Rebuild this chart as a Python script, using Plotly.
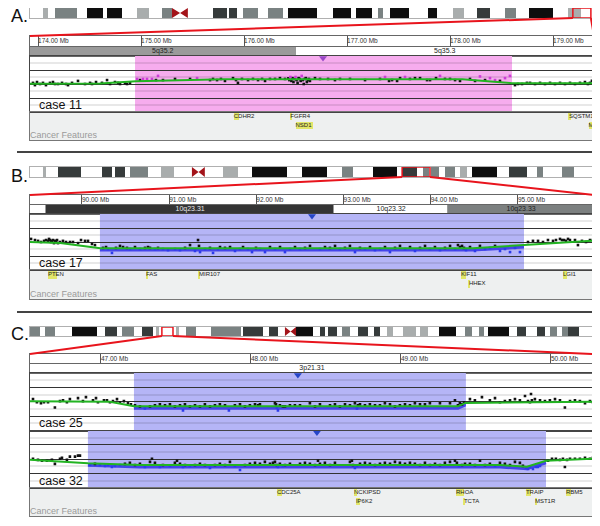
import plotly.graph_objects as go
import numpy as np

# page body has an 8px margin: the figure is drawn 8px right/down of the window origin
OFF = 8
W, H = 600 - OFF, 526 - OFF
FONT = "Liberation Sans"

# ---------------- ideogram bands: (start Mb, end Mb, stain) ----------------
CHR5_LEN = 181.5
CHR5_BANDS = [
    (0.0, 4.2, "gneg"), (4.2, 5.8, "gpos25"), (5.8, 8.0, "gneg"), (8.0, 15.1, "gpos50"),
    (15.1, 18.3, "gneg"), (18.3, 23.5, "gpos100"), (23.5, 24.8, "gneg"), (24.8, 29.6, "gpos100"),
    (29.6, 34.4, "gneg"), (34.4, 38.3, "gpos25"), (38.3, 42.5, "gneg"), (42.5, 45.7, "gpos50"),
    (45.7, 48.3, "acen"), (48.3, 50.8, "acen"), (50.8, 58.9, "gneg"), (58.9, 63.4, "gpos75"),
    (63.4, 64.0, "gneg"), (64.0, 66.6, "gpos75"), (66.6, 68.5, "gneg"), (68.5, 73.4, "gpos50"),
    (73.4, 76.6, "gneg"), (76.6, 81.4, "gpos50"), (81.4, 83.0, "gneg"), (83.0, 92.4, "gpos100"),
    (92.4, 97.5, "gneg"), (97.5, 103.3, "gpos100"), (103.3, 104.9, "gneg"), (104.9, 110.1, "gpos100"),
    (110.1, 112.0, "gneg"), (112.0, 113.6, "gpos50"), (113.6, 115.8, "gneg"), (115.8, 122.0, "gpos100"),
    (122.0, 128.1, "gneg"), (128.1, 131.0, "gpos100"), (131.0, 136.1, "gneg"), (136.1, 139.7, "gpos25"),
    (139.7, 143.8, "gneg"), (143.8, 148.0, "gpos75"), (148.0, 152.9, "gneg"), (152.9, 156.4, "gpos50"),
    (156.4, 160.6, "gneg"), (160.6, 168.3, "gpos100"), (168.3, 173.1, "gneg"), (173.1, 177.3, "gpos25"),
    (177.3, 181.5, "gneg"),
]
CHR5_WINDOW = (174.7, 180.5)

CHR10_LEN = 135.5
CHR10_BANDS = [
    (0.0, 3.1, "gneg"), (3.1, 3.8, "gpos25"), (3.8, 6.7, "gneg"), (6.7, 12.3, "gpos75"),
    (12.3, 17.3, "gneg"), (17.3, 19.7, "gpos75"), (19.7, 20.4, "gneg"), (20.4, 22.8, "gpos75"),
    (22.8, 24.0, "gneg"), (24.0, 28.3, "gpos50"), (28.3, 31.5, "gneg"), (31.5, 34.6, "gpos25"),
    (34.6, 38.9, "gneg"), (38.9, 40.5, "acen"), (40.5, 42.0, "acen"), (42.0, 46.4, "gneg"),
    (46.4, 50.0, "gpos25"), (50.0, 53.3, "gneg"), (53.3, 61.7, "gpos100"), (61.7, 65.3, "gneg"),
    (65.3, 71.3, "gpos100"), (71.3, 74.9, "gneg"), (74.9, 77.6, "gpos50"), (77.6, 82.4, "gneg"),
    (82.4, 88.2, "gpos100"), (88.2, 89.4, "gneg"), (89.4, 93.0, "gpos75"), (93.0, 94.4, "gneg"),
    (94.4, 95.8, "gpos50"), (95.8, 96.3, "gneg"), (96.3, 98.2, "gpos50"), (98.2, 99.7, "gneg"),
    (99.7, 102.1, "gpos50"), (102.1, 103.3, "gneg"), (103.3, 105.0, "gpos25"), (105.0, 106.2, "gneg"),
    (106.2, 112.2, "gpos100"), (112.2, 115.1, "gneg"), (115.1, 119.4, "gpos75"), (119.4, 121.8, "gneg"),
    (121.8, 123.2, "gpos50"), (123.2, 127.8, "gneg"), (127.8, 130.7, "gpos50"), (130.7, 135.5, "gneg"),
]
CHR10_WINDOW = (89.4, 96.1)

CHR3_LEN = 198.0
CHR3_BANDS = [
    (0.0, 3.5, "gpos50"), (3.5, 5.3, "gneg"), (5.3, 8.8, "gpos50"), (8.8, 14.7, "gneg"),
    (14.7, 23.5, "gpos100"), (23.5, 26.3, "gneg"), (26.3, 30.5, "gpos75"), (30.5, 32.3, "gneg"),
    (32.3, 36.5, "gpos50"), (36.5, 39.3, "gneg"), (39.3, 43.2, "gpos75"), (43.2, 44.2, "gneg"),
    (44.2, 45.3, "gpos25"), (45.3, 51.3, "gneg"), (51.3, 52.3, "gpos25"), (52.3, 54.8, "gneg"),
    (54.8, 58.3, "gpos50"), (58.3, 63.5, "gneg"), (63.5, 74.1, "gpos50"), (74.1, 74.8, "gneg"),
    (74.8, 81.8, "gpos75"), (81.8, 83.9, "gneg"), (83.9, 87.1, "gpos75"), (87.1, 89.5, "gneg"),
    (89.5, 91.5, "acen"), (91.5, 93.4, "acen"), (93.4, 99.4, "gpos100"), (99.4, 101.8, "gneg"),
    (101.8, 103.9, "gpos75"), (103.9, 104.6, "gneg"), (104.6, 107.8, "gpos75"), (107.8, 109.5, "gneg"),
    (109.5, 112.4, "gpos50"), (112.4, 115.2, "gneg"), (115.2, 118.7, "gpos75"), (118.7, 120.8, "gneg"),
    (120.8, 122.9, "gpos75"), (122.9, 125.3, "gneg"), (125.3, 127.4, "gpos25"), (127.4, 131.0, "gneg"),
    (131.0, 135.5, "gpos25"), (135.5, 136.9, "gneg"), (136.9, 139.7, "gpos25"), (139.7, 143.6, "gneg"),
    (143.6, 149.6, "gpos100"), (149.6, 152.7, "gneg"), (152.7, 155.2, "gpos50"), (155.2, 157.6, "gneg"),
    (157.6, 159.4, "gpos50"), (159.4, 160.8, "gneg"), (160.8, 168.2, "gpos100"), (168.2, 171.0, "gneg"),
    (171.0, 174.1, "gpos75"), (174.1, 178.0, "gneg"), (178.0, 180.8, "gpos75"), (180.8, 182.6, "gneg"),
    (182.6, 185.0, "gpos50"), (185.0, 186.8, "gneg"), (186.8, 188.9, "gpos50"), (188.9, 192.8, "gpos75"),
    (192.8, 198.0, "gneg"),
]
CHR3_WINDOW = (46.3, 50.2)

# ---------------- zoomed views (Mb) ----------------
A_VIEW = (173.922, 179.398)
B_VIEW = (89.404, 95.872)
C_VIEW = (46.527, 50.287)

# cytobands in view: (name, start, end, shade)
A_CYTO = [("5q35.2", 173.3, 176.5, "mid"), ("5q35.3", 176.5, 181.0, "white")]
B_CYTO = [("10q23.2", 87.9, 89.59, "white"), ("10q23.31", 89.59, 92.89, "dark"),
          ("10q23.32", 92.89, 94.2, "white"), ("10q23.33", 94.2, 97.0, "gray")]
C_CYTO = [("3p21.31", 46.0, 50.6, "white")]

# cancer features: (gene, start, end, row)
A_GENES = [("CDHR2", 175.90, 175.948, 1), ("FGFR4", 176.45, 176.461, 1), ("NSD1", 176.50, 176.667, 2),
           ("SQSTM1", 179.155, 179.171, 1), ("MAML1", 179.345, 179.378, 2)]
B_GENES = [("PTEN", 89.61, 89.714, 1), ("FAS", 90.734, 90.76, 1), ("MIR107", 91.342, 91.343, 1),
           ("KIF11", 94.346, 94.409, 1), ("HHEX", 94.438, 94.444, 2), ("LGI1", 95.516, 95.56, 1)]
C_GENES = [("CDC25A", 48.173, 48.204, 1), ("NCKIPSD", 48.687, 48.71, 1), ("IP6K2", 48.70, 48.73, 2),
           ("RHOA", 49.367, 49.42, 1), ("TCTA", 49.42, 49.43, 2), ("TRAIP", 49.833, 49.866, 1),
           ("MST1R", 49.893, 49.91, 2), ("RBM5", 50.10, 50.135, 1)]

# ---------------- probe data (Mb, log2 ratio) ----------------
A_X = [173.951, 173.97, 173.99, 174.019, 174.048, 174.077, 174.116, 174.145, 174.165, 174.194, 174.233, 174.272,
       174.291, 174.33, 174.388, 174.456, 174.505, 174.524, 174.563, 174.621, 174.67, 174.699, 174.747, 174.776,
       174.796, 174.844, 174.864, 174.893,
       174.961, 174.99, 175.019, 175.058, 175.106, 175.145, 175.165, 175.213, 175.33, 175.476, 175.544, 175.67,
       175.699, 175.738, 175.776, 175.815, 175.893, 175.922, 175.941, 175.98, 176.039, 176.087, 176.136, 176.175,
       176.204, 176.252, 176.301, 176.349, 176.398,
       176.43, 176.44, 176.45, 176.46, 176.47, 176.48, 176.49, 176.50, 176.51, 176.52, 176.53, 176.54, 176.55,
       176.56, 176.57, 176.58, 176.59, 176.60, 176.61, 176.62, 176.63, 176.64,
       176.689, 176.738, 176.816, 176.883, 176.932, 177.029, 177.175, 177.32, 177.369, 177.408, 177.437, 177.486,
       177.515, 177.563, 177.611, 177.66, 177.709, 177.777, 177.806, 177.864, 177.903, 177.951, 178.0, 178.049,
       178.097, 178.194, 178.243, 178.291, 178.34, 178.388, 178.437, 178.485, 178.534, 178.582,
       178.631, 178.66, 178.699, 178.747, 178.777, 178.825, 178.874, 178.922, 178.971, 179.019, 179.068, 179.116,
       179.165, 179.213, 179.262, 179.31, 179.339, 179.359, 179.378]
A_V = [0.04, -0.04, 0.07, 0.0, 0.04, -0.04, 0.04, 0.07, 0.0, 0.0, 0.04, 0.0,
       -0.04, 0.04, 0.11, 0.0, 0.04, 0.0, 0.07, 0.04, 0.14, 0.0, 0.07, 0.04,
       0.0, 0.04, 0.0, 0.04,
       0.18, 0.14, 0.18, 0.18, 0.18, 0.14, 0.29, 0.14, 0.18, 0.18, 0.21, 0.14,
       0.18, 0.14, 0.18, 0.11, 0.21, 0.14, 0.04, 0.18, 0.14, 0.18, 0.14, 0.18,
       0.11, 0.18, 0.18, 0.21, 0.18,
       0.2, 0.14, 0.25, 0.11, 0.21, 0.07, 0.18, 0.25, 0.14, 0.04, 0.21, 0.18, 0.11,
       0.29, 0.14, 0.0, 0.18, 0.21, 0.07, 0.14, 0.18, 0.11,
       0.21, 0.18, 0.18, 0.14, 0.18, 0.18, 0.14, 0.18, 0.25, 0.11, 0.14, 0.11,
       0.21, 0.25, 0.18, 0.21, 0.21, 0.14, 0.14, 0.21, 0.29, 0.18, 0.18, 0.14,
       0.11, 0.18, 0.11, 0.27, 0.14, 0.21, 0.14, 0.11, 0.21, 0.29,
       -0.04, 0.0, 0.0, 0.04, 0.04, 0.0, 0.04, 0.0, 0.04, 0.0, 0.04, 0.0,
       0.04, 0.0, 0.04, 0.07, 0.0, 0.04, 0.11]
A_SEG_X = [173.922, 174.6, 174.95, 175.8, 178.12, 178.6, 179.398]
A_SEG_V = [0.01, 0.02, 0.10, 0.17, 0.17, 0.03, 0.025]
A_REGION = (174.942, 178.602)
A_MARK = 176.767

B_X = [89.416, 89.461, 89.496, 89.53, 89.565, 89.588, 89.61, 89.622, 89.633, 89.645, 89.656, 89.668, 89.679,
       89.691, 89.702, 89.714, 89.725, 89.748, 89.782, 89.817, 89.863, 89.897, 89.955, 89.989, 90.035, 90.069,
       90.115, 90.149,
       90.241, 90.276, 90.299, 90.344, 90.39, 90.436, 90.471, 90.516, 90.551, 90.608, 90.666, 90.723, 90.757,
       90.78, 90.838, 90.872, 90.929, 90.987, 91.067, 91.124, 91.182, 91.239, 91.296, 91.331, 91.342, 91.354,
       91.411, 91.468, 91.503, 91.56, 91.583, 91.64, 91.698, 91.755, 91.812, 91.847, 91.904, 91.95, 91.996,
       92.042, 92.099, 92.156, 92.214, 92.271, 92.328, 92.386, 92.443, 92.5, 92.558, 92.615, 92.73, 92.787,
       92.844, 92.902, 92.959, 93.016, 93.073, 93.131, 93.188, 93.246, 93.303, 93.36, 93.418, 93.475, 93.532,
       93.59, 93.647, 93.705, 93.762, 93.819, 93.877, 93.934, 93.991, 94.048, 94.106, 94.163, 94.221, 94.278,
       94.312, 94.335, 94.358, 94.381, 94.404, 94.45, 94.507, 94.564, 94.622, 94.679, 94.737, 94.794, 94.851,
       94.909, 94.966, 95.023,
       95.115, 95.172, 95.23, 95.287, 95.344, 95.402, 95.436, 95.482, 95.505, 95.528, 95.551, 95.574, 95.596,
       95.654, 95.688, 95.734, 95.78, 95.826, 95.861]
B_V = [0.11, 0.07, 0.04, 0.0, 0.04, 0.07, 0.04, 0.11, 0.07, 0.0, 0.04, 0.07, -0.04,
       0.04, 0.0, 0.07, -0.04, 0.0, 0.04, 0.0, 0.0, 0.0, -0.04, 0.07, 0.04, 0.04,
       -0.07, -0.11,
       -0.21, -0.18, -0.25, -0.39, -0.21, -0.14, -0.18, -0.21, -0.25, -0.18, -0.25, -0.21, -0.18,
       -0.21, -0.25, -0.21, -0.25, -0.29, -0.25, -0.29, -0.21, -0.11, -0.32, 0.07, -0.14, -0.36,
       -0.25, -0.21, -0.39, -0.25, -0.18, -0.21, -0.18, -0.32, -0.25, -0.18, -0.25, -0.36, -0.21,
       -0.25, -0.36, -0.18, -0.25, -0.18, -0.36, -0.25, -0.18, -0.25, -0.21, -0.14, -0.25, -0.18,
       -0.21, -0.14, -0.25, -0.21, -0.14, -0.36, -0.21, -0.25, -0.18, -0.29, -0.25, -0.18, -0.36,
       -0.21, -0.14, -0.25, -0.18, -0.32, -0.21, -0.14, -0.25, -0.18, -0.29, -0.21, -0.14, -0.25,
       -0.11, -0.18, -0.14, -0.21, -0.29, -0.18, -0.32, -0.14, -0.25, -0.21, -0.14, -0.32, -0.25,
       -0.36, -0.21, -0.36,
       0.0, 0.04, 0.04, 0.0, 0.07, 0.04, 0.07, 0.11, 0.07, 0.07, 0.04, 0.11, 0.07,
       0.07, -0.11, 0.04, 0.0, 0.07, 0.07]
B_SEG_X = [89.404, 89.75, 90.21, 94.48, 95.07, 95.872]
B_SEG_V = [0.0, -0.04, -0.22, -0.22, -0.11, 0.05]
B_REGION = (90.206, 95.069)
B_MARK = 92.638

C25_X = [46.547, 46.573, 46.6, 46.62, 46.647, 46.693, 46.727, 46.747, 46.773, 46.793, 46.847, 46.88, 46.9,
         46.947, 46.967, 46.98, 47.02, 47.04, 47.06, 47.08, 47.107, 47.127, 47.153, 47.18, 47.2,
         47.227, 47.26, 47.293, 47.327, 47.36, 47.393, 47.427, 47.46, 47.493, 47.527, 47.547, 47.56, 47.593,
         47.627, 47.66, 47.693, 47.727, 47.76, 47.793, 47.827, 47.853, 47.893, 47.927, 47.96, 47.993, 48.027,
         48.047, 48.06, 48.16, 48.167, 48.173, 48.18, 48.193, 48.213, 48.227, 48.26, 48.293, 48.327, 48.393,
         48.427, 48.46, 48.527, 48.56, 48.593, 48.627, 48.66, 48.693, 48.707, 48.713, 48.727, 48.76, 48.793,
         48.827, 48.86, 48.893, 48.927, 48.96, 48.993, 49.027, 49.06, 49.093, 49.127, 49.16, 49.193, 49.26,
         49.327, 49.36, 49.38, 49.393, 49.407, 49.42,
         49.46, 49.493, 49.54, 49.593, 49.627, 49.66, 49.693, 49.727, 49.76, 49.793, 49.827, 49.847, 49.86,
         49.867, 49.873, 49.893, 49.927, 49.96, 49.993, 50.027, 50.06, 50.093, 50.127, 50.16, 50.193, 50.227,
         50.26, 50.28]
C25_V = [0.09, -0.02, -0.05, -0.02, -0.02, -0.2, 0.02, 0.05, -0.02, 0.09, 0.125, 0.02, 0.16,
         0.05, 0.125, -0.02, 0.05, 0.05, -0.02, 0.02, 0.09, -0.02, 0.02, -0.05, -0.09,
         -0.125, -0.16, -0.23, -0.16, -0.125, -0.09, -0.125, -0.09, -0.16, -0.125, -0.3, -0.09, -0.16,
         -0.125, -0.16, -0.09, -0.16, -0.125, -0.09, -0.125, -0.3, -0.125, -0.09, -0.16, -0.125, -0.09,
         -0.125, -0.09, -0.05, -0.09, -0.2, -0.3, -0.125, -0.16, -0.16, -0.125, -0.125, -0.125, -0.05,
         -0.16, -0.09, -0.125, -0.09, -0.16, -0.09, -0.125, -0.05, -0.23, -0.125, -0.09, -0.125, -0.09,
         -0.125, -0.125, -0.05, -0.09, -0.16, -0.125, -0.09, -0.125, -0.05, -0.09, -0.09, -0.05, -0.05,
         -0.05, 0.05, -0.125, -0.05, -0.09, -0.02,
         0.09, 0.05, 0.16, 0.05, 0.125, -0.02, 0.02, 0.05, 0.09, 0.05, 0.2, 0.02, -0.02,
         0.27, 0.05, 0.09, 0.05, 0.02, 0.05, 0.09, 0.05, -0.2, 0.02, 0.05, 0.02, -0.05,
         0.02, -0.02]
C25_SEG_X = [46.527, 47.06, 47.22, 49.38, 49.43, 50.287]
C25_SEG_V = [0.02, 0.0, -0.16, -0.16, -0.04, 0.0]
C25_REGION = (47.22, 49.433)
C25_MARK = 48.313

C32_X = [46.547, 46.58, 46.607, 46.64, 46.673, 46.693, 46.727, 46.74, 46.773, 46.793, 46.827, 46.847, 46.86,
         46.927, 46.96, 46.993, 47.027, 47.047, 47.073, 47.093, 47.127, 47.16, 47.193, 47.227, 47.26, 47.293,
         47.327, 47.34, 47.36, 47.393, 47.413, 47.46, 47.493, 47.507, 47.527, 47.547, 47.56, 47.593, 47.627,
         47.66, 47.693, 47.727, 47.76, 47.793, 47.827, 47.86, 47.893, 47.927, 47.96, 47.993, 48.027, 48.06,
         48.093, 48.127, 48.147, 48.16, 48.173, 48.18, 48.193, 48.213, 48.227, 48.26, 48.327, 48.36, 48.393,
         48.427, 48.447, 48.46, 48.493, 48.527, 48.56, 48.66, 48.673, 48.68, 48.693, 48.707, 48.727, 48.76,
         48.793, 48.827, 48.86, 48.893, 48.927, 48.96, 48.993, 49.027, 49.06, 49.093, 49.127, 49.16, 49.193,
         49.227, 49.26, 49.293, 49.327, 49.36, 49.373, 49.387, 49.407, 49.427, 49.46, 49.493, 49.527, 49.56,
         49.593, 49.627, 49.66, 49.693, 49.727, 49.76, 49.793, 49.813, 49.833, 49.847, 49.86, 49.88, 49.9,
         49.913, 49.927,
         49.98, 50.007, 50.033, 50.06, 50.08, 50.093, 50.107, 50.127, 50.16, 50.193, 50.227, 50.26, 50.28]
C32_V = [0.02, -0.02, -0.05, -0.05, -0.02, -0.16, 0.02, 0.05, -0.02, 0.09, 0.09, 0.125, 0.125,
         -0.2, -0.16, -0.2, -0.23, -0.2, -0.27, -0.23, -0.2, -0.16, -0.125, -0.2, -0.16, -0.27,
         -0.09, 0.02, -0.125, -0.27, -0.2, -0.23, -0.125, -0.05, -0.16, -0.27, -0.2, -0.23, -0.2,
         -0.16, -0.2, -0.3, -0.2, -0.16, -0.2, -0.09, -0.23, -0.375, -0.2, -0.16, -0.125, -0.16,
         -0.09, -0.16, -0.125, -0.09, -0.2, -0.27, -0.16, -0.23, -0.2, -0.16, -0.16, -0.125, -0.16,
         -0.2, -0.05, -0.16, -0.125, -0.2, -0.125, -0.09, -0.05, -0.2, -0.3, -0.23, -0.16, -0.125,
         -0.16, -0.2, -0.16, -0.125, -0.16, -0.09, -0.125, -0.16, -0.125, -0.16, -0.2, -0.125, -0.2,
         -0.16, -0.2, -0.125, -0.09, -0.05, -0.125, -0.23, -0.2, -0.16, -0.16, -0.2, -0.05, -0.2,
         -0.16, -0.23, -0.125, -0.16, -0.2, -0.09, -0.125, -0.23, -0.3, -0.34, -0.27, -0.34, -0.27,
         -0.27, -0.23,
         -0.05, 0.02, 0.02, -0.02, 0.02, -0.27, -0.02, 0.02, 0.02, 0.02, 0.05, 0.02, 0.05]
C32_SEG_X = [46.527, 46.913, 47.26, 49.66, 49.84, 49.967, 50.287]
C32_SEG_V = [-0.02, -0.14, -0.2, -0.2, -0.26, -0.05, 0.02]
C32_REGION = (46.913, 49.967)
C32_MARK = 48.44

# ---------------- styles ----------------
STAIN_COLORS = {"gneg": "#ffffff", "gpos25": "#a9adad", "gpos50": "#7a8282",
                "gpos75": "#363b3b", "gpos100": "#0e0e0e"}
CYTO_FILL = {"white": "#ffffff", "mid": "#9a9a9a", "dark": "#343434", "gray": "#7c8080"}
CYTO_TEXT = {"white": "#222222", "mid": "#222222", "dark": "#e8e8e8", "gray": "#222222"}
GAIN_FILL, LOSS_FILL = "rgb(246,172,238)", "rgb(181,181,246)"
GAIN_PT, LOSS_PT = "rgb(205,60,215)", "rgb(45,60,235)"
RED = "#e8141c"
X0, X1 = 30, 594   # panel left/right in window pixels


def xp(px):
    return (px - OFF) / W


def yp(py):
    return 1 - (py - OFF) / H


panels = [
    dict(label="A.", label_y=16, length=CHR5_LEN, bands=CHR5_BANDS, window=CHR5_WINDOW, view=A_VIEW,
         ideo=(8, 18), ruler=(36, 47), cyto_row=(47, 56), feat=(112, 140), cyto=A_CYTO, genes=A_GENES,
         tracks=[dict(name="case 11", rows=(56, 112), x=A_X, v=A_V, sx=A_SEG_X, sv=A_SEG_V, region=A_REGION,
                      mark=A_MARK, kind="gain")]),
    dict(label="B.", label_y=176, length=CHR10_LEN, bands=CHR10_BANDS, window=CHR10_WINDOW, view=B_VIEW,
         ideo=(167, 177), ruler=(195, 205), cyto_row=(205, 214), feat=(270, 299), cyto=B_CYTO, genes=B_GENES,
         tracks=[dict(name="case 17", rows=(214, 270), x=B_X, v=B_V, sx=B_SEG_X, sv=B_SEG_V, region=B_REGION,
                      mark=B_MARK, kind="loss")]),
    dict(label="C.", label_y=334, length=CHR3_LEN, bands=CHR3_BANDS, window=CHR3_WINDOW, view=C_VIEW,
         ideo=(327, 336), ruler=(354, 364), cyto_row=(364, 373), feat=(488, 516), cyto=C_CYTO, genes=C_GENES,
         tracks=[dict(name="case 25", rows=(373, 430.5), x=C25_X, v=C25_V, sx=C25_SEG_X, sv=C25_SEG_V,
                      region=C25_REGION, mark=C25_MARK, kind="loss"),
                 dict(name="case 32", rows=(430.5, 488), x=C32_X, v=C32_V, sx=C32_SEG_X, sv=C32_SEG_V,
                      region=C32_REGION, mark=C32_MARK, kind="loss")]),
]

fig = go.Figure()
shapes, annotations, axes_layout = [], [], {}
_n = [0]


def new_axes(top, bottom, xrange, yrange, linecolor="#666"):
    _n[0] += 1
    i = _n[0]
    xr = "x" if i == 1 else f"x{i}"
    yr = "y" if i == 1 else f"y{i}"
    xk = "xaxis" if i == 1 else f"xaxis{i}"
    yk = "yaxis" if i == 1 else f"yaxis{i}"
    common = dict(showticklabels=False, ticks="", showgrid=False, zeroline=False, showline=True,
                  mirror=True, linecolor=linecolor, linewidth=1, fixedrange=True)
    axes_layout[xk] = dict(domain=[xp(X0), xp(X1)], range=list(xrange), anchor=yr, **common)
    axes_layout[yk] = dict(domain=[yp(bottom), yp(top)], range=list(yrange), anchor=xr, **common)
    return xr, yr, xk, yk


def text_trace(x, y, text, xr, yr, size, color, pos="middle right"):
    return go.Scatter(x=x, y=y, text=text, mode="text", textposition=pos,
                      textfont=dict(size=size, color=color, family=FONT),
                      xaxis=xr, yaxis=yr, hoverinfo="skip", cliponaxis=True)


for p in panels:
    L = p["length"]
    v0, v1 = p["view"]
    # ---- ideogram ----
    xr, yr, xk, yk = new_axes(p["ideo"][0], p["ideo"][1], (0, L), (-0.5, 0.5), linecolor="#b0b0b0")
    nb = [b for b in p["bands"] if b[2] != "acen"]
    fig.add_trace(go.Bar(orientation="h", base=[b[0] for b in nb], x=[b[1] - b[0] for b in nb],
                         y=[0] * len(nb), width=1.0,
                         marker=dict(color=[STAIN_COLORS[b[2]] for b in nb], line=dict(width=0)),
                         xaxis=xr, yaxis=yr, hoverinfo="skip"))
    ac = [b for b in p["bands"] if b[2] == "acen"]
    ps, cen, qe = ac[0][0], ac[0][1], ac[-1][1]
    fig.add_trace(go.Scatter(x=[ps, ps, cen, ps, None, qe, qe, cen, qe],
                             y=[0.5, -0.5, 0, 0.5, None, 0.5, -0.5, 0, 0.5],
                             mode="lines", fill="toself", fillcolor="#a3141a",
                             line=dict(width=0, color="#a3141a"), xaxis=xr, yaxis=yr, hoverinfo="skip"))
    w0, w1 = p["window"]
    shapes.append(dict(type="rect", xref=xr, yref=yr, x0=w0, x1=w1, y0=-0.5, y1=0.5,
                       line=dict(color=RED, width=1.5), fillcolor="rgba(0,0,0,0)", layer="above"))
    yb, yt = yp(p["ideo"][1]), yp(p["ruler"][0])
    shapes.append(dict(type="line", xref=xr, yref="paper", x0=w0, y0=yb, x1=0, y1=yt,
                       line=dict(color=RED, width=2)))
    shapes.append(dict(type="line", xref=xr, yref="paper", x0=w1, y0=yb, x1=L, y1=yt,
                       line=dict(color=RED, width=2)))
    annotations.append(dict(text=p["label"], x=xp(9), y=yp(p["label_y"]), xref="paper", yref="paper",
                            xanchor="left", yanchor="middle", showarrow=False,
                            font=dict(size=18, family=FONT, color="#111")))

    # ---- ruler ----
    xr, yr, xk, yk = new_axes(p["ruler"][0], p["ruler"][1], (v0, v1), (0, 1))
    axes_layout[xk].update(showgrid=True, dtick=1, tick0=0, gridcolor="#555", gridwidth=1)
    ticks = list(range(int(np.ceil(v0)), int(np.floor(v1)) + 1))
    fig.add_trace(text_trace(ticks, [0.5] * len(ticks), [f"{m:.2f} Mb" for m in ticks], xr, yr, 6.5, "#333"))

    # ---- cytoband row ----
    xr, yr, xk, yk = new_axes(p["cyto_row"][0], p["cyto_row"][1], (v0, v1), (-0.5, 0.5))
    cb = p["cyto"]
    fig.add_trace(go.Bar(orientation="h", base=[c[1] for c in cb], x=[c[2] - c[1] for c in cb],
                         y=[0] * len(cb), width=1.0,
                         marker=dict(color=[CYTO_FILL[c[3]] for c in cb], line=dict(color="#999", width=1)),
                         xaxis=xr, yaxis=yr, hoverinfo="skip"))
    for c in cb:
        a, b = max(c[1], v0), min(c[2], v1)
        if (b - a) / (v1 - v0) * (X1 - X0) > 35:
            fig.add_trace(text_trace([(a + b) / 2], [0], [c[0]], xr, yr, 7, CYTO_TEXT[c[3]], pos="middle center"))

    # ---- tracks ----
    for t in p["tracks"]:
        xr, yr, xk, yk = new_axes(t["rows"][0], t["rows"][1], (v0, v1), (-1, 1), linecolor="#444")
        axes_layout[yk].update(showgrid=True, dtick=0.5, tick0=0, gridcolor="#333", gridwidth=1,
                               minor=dict(dtick=0.25, tick0=0, showgrid=True,
                                          gridcolor="rgba(0,0,0,0.09)", gridwidth=2))
        r0, r1 = t["region"]
        gain = t["kind"] == "gain"
        shapes.append(dict(type="rect", xref=xr, yref=yr, x0=r0, x1=r1, y0=-1, y1=1,
                           fillcolor=GAIN_FILL if gain else LOSS_FILL, line=dict(width=0), layer="below"))
        x = np.array(t["x"]); v = np.array(t["v"])
        seg = np.interp(x, t["sx"], t["sv"])
        inr = (x >= r0) & (x <= r1)
        col = inr & ((v > seg + 0.06) if gain else (v < seg - 0.02))
        if not gain:
            ins = [sx for sx in t["sx"] if r0 <= sx <= r1]
            ux = [r0] + ins + [r1]
            uv = list(np.interp(ux, t["sx"], t["sv"]) - 0.07)
            fig.add_trace(go.Scatter(x=ux, y=uv, mode="lines", line=dict(color="#4545ea", width=3),
                                     xaxis=xr, yaxis=yr, hoverinfo="skip"))
        fig.add_trace(go.Scatter(x=x[~col], y=v[~col], mode="markers",
                                 marker=dict(symbol="square", size=2.6, color="#111", line=dict(width=0)),
                                 xaxis=xr, yaxis=yr, hoverinfo="skip"))
        fig.add_trace(go.Scatter(x=x[col], y=v[col], mode="markers",
                                 marker=dict(symbol="square", size=2.6, color=GAIN_PT if gain else LOSS_PT,
                                             line=dict(width=0)),
                                 xaxis=xr, yaxis=yr, hoverinfo="skip"))
        fig.add_trace(go.Scatter(x=t["sx"], y=t["sv"], mode="lines", line=dict(color="#22b422", width=2),
                                 xaxis=xr, yaxis=yr, hoverinfo="skip"))
        fig.add_trace(go.Scatter(x=[t["mark"]], y=[0.93], mode="markers",
                                 marker=dict(symbol="triangle-down", size=7,
                                             color="#9a48c8" if gain else "#2646c8"),
                                 xaxis=xr, yaxis=yr, hoverinfo="skip"))
        annotations.append(dict(text=t["name"], x=0.012, y=-0.74, xref=f"{xr} domain", yref=yr,
                                xanchor="left", yanchor="middle", showarrow=False,
                                font=dict(size=12.5, family=FONT, color="#111")))

    # ---- cancer features ----
    xr, yr, xk, yk = new_axes(p["feat"][0], p["feat"][1], (v0, v1), (0, 1), linecolor="#777")
    shapes.append(dict(type="rect", xref=f"{xr} domain", yref=f"{yr} domain", x0=0, x1=1, y0=0, y1=1,
                       fillcolor="#eef0f0", line=dict(width=0), layer="below"))
    rowy = {1: 0.84, 2: 0.52}
    g = p["genes"]
    fig.add_trace(go.Bar(orientation="h", base=[q[1] for q in g], x=[q[2] - q[1] for q in g],
                         y=[rowy[q[3]] for q in g], width=0.27,
                         marker=dict(color="rgb(226,230,104)", line=dict(width=0)),
                         xaxis=xr, yaxis=yr, hoverinfo="skip"))
    fig.add_trace(text_trace([q[1] for q in g], [rowy[q[3]] for q in g], [q[0] for q in g], xr, yr, 6, "#222"))
    fig.add_trace(text_trace([v0], [0.15], ["Cancer Features"], xr, yr, 9, "#9a9a9a"))

# panel separators
for ysep in (152, 312):
    shapes.append(dict(type="line", xref="paper", yref="paper", x0=xp(17), x1=xp(X1),
                       y0=yp(ysep), y1=yp(ysep), line=dict(color="#444", width=2)))

fig.update_layout(
    width=W, height=H, margin=dict(l=0, r=0, t=0, b=0),
    paper_bgcolor="white", plot_bgcolor="rgba(0,0,0,0)",
    showlegend=False, barmode="overlay", bargap=0,
    shapes=shapes, annotations=annotations,
    font=dict(family=FONT),
    **axes_layout,
)
fig.write_html("out.html")
